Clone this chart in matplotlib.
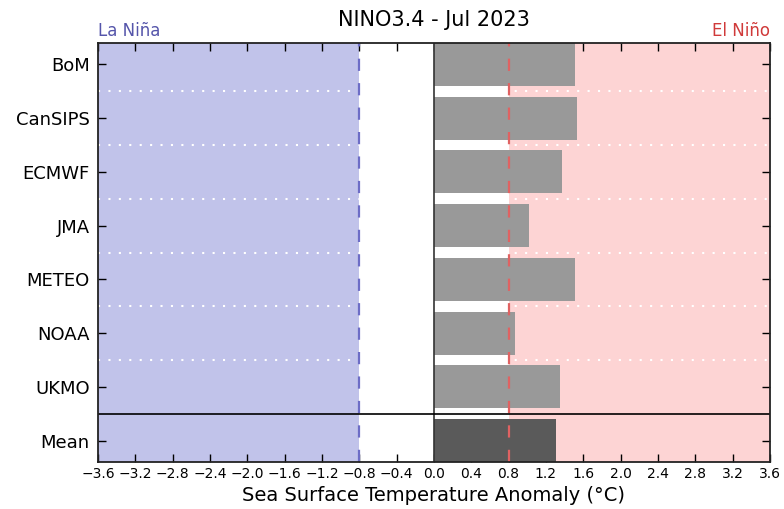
import matplotlib
matplotlib.use('Agg')
import matplotlib.pyplot as plt
import numpy as np

# 模式名称和数值
models = ['BoM', 'CanSIPS', 'ECMWF', 'JMA', 'METEO', 'NOAA', 'UKMO']
anomaly = [1.51, 1.53, 1.37, 1.02, 1.51, 0.87, 1.35]
mean_value = np.mean(anomaly)
labels = models + ['Mean']

threshold = 0.8
xmin, xmax = -3.6, 3.6
xticks = [round(-3.6 + 0.4 * i, 1) + 0.0 for i in range(19)]

fig = plt.figure(figsize=(7.84, 5.09), dpi=100)
ax = fig.add_axes([0.125, 0.0923, 0.857, 0.8232])

# 背景区域
ax.axvspan(xmin, -threshold, color='#c1c3ea', lw=0, zorder=0)
ax.axvspan(threshold, xmax, color='#fdd4d4', lw=0, zorder=0)

# 分隔线
for yy in np.arange(0.5, len(models) - 1, 1.0):
    ax.axhline(yy, color='white', lw=1.5, dashes=(1, 4), zorder=1)

y = np.arange(len(labels))
ax.barh(y[:-1], anomaly, height=0.8, color='#999999', lw=0, zorder=2)
ax.barh(y[-1], mean_value, height=0.8, color='#5a5a5a', lw=0, zorder=2)

ax.axvline(0, color='#333333', lw=1.2, zorder=3)
ax.axvline(-threshold, color='#6d6dc6', lw=1.6, dashes=(5.5, 5.5), zorder=3)
ax.axvline(threshold, color='#e06262', lw=1.6, dashes=(5.5, 5.5), zorder=3)
ax.axhline(len(models) - 0.5, color='black', lw=1.2, zorder=3)

ax.set_xlim(xmin, xmax)
ax.set_ylim(len(labels) - 0.6, -0.4)
ax.set_xticks(xticks)
ax.set_xticklabels([f'{v:.1f}'.replace('-', '\u2212') if abs(v) > 1e-9 else '0.0' for v in xticks],
                   fontsize=10)
ax.set_yticks(y)
ax.set_yticklabels(labels, fontsize=13)
ax.tick_params(direction='in', top=True, right=True, length=6, width=1)
ax.tick_params(axis='y', pad=6)
for s in ax.spines.values():
    s.set_linewidth(1.3)
    s.set_color('#222222')
    s.set_zorder(5)

ax.set_xlabel('Sea Surface Temperature Anomaly (°C)', fontsize=14)
ax.set_title('NINO3.4 - Jul 2023', fontsize=15, pad=12)
ax.text(0.0, 1.008, 'La Niña', transform=ax.transAxes, ha='left', va='bottom',
        fontsize=12, color='#5555aa')
ax.text(1.0, 1.008, 'El Niño', transform=ax.transAxes, ha='right', va='bottom',
        fontsize=12, color='#d03a3a')

plt.savefig('out.png', dpi=100)
